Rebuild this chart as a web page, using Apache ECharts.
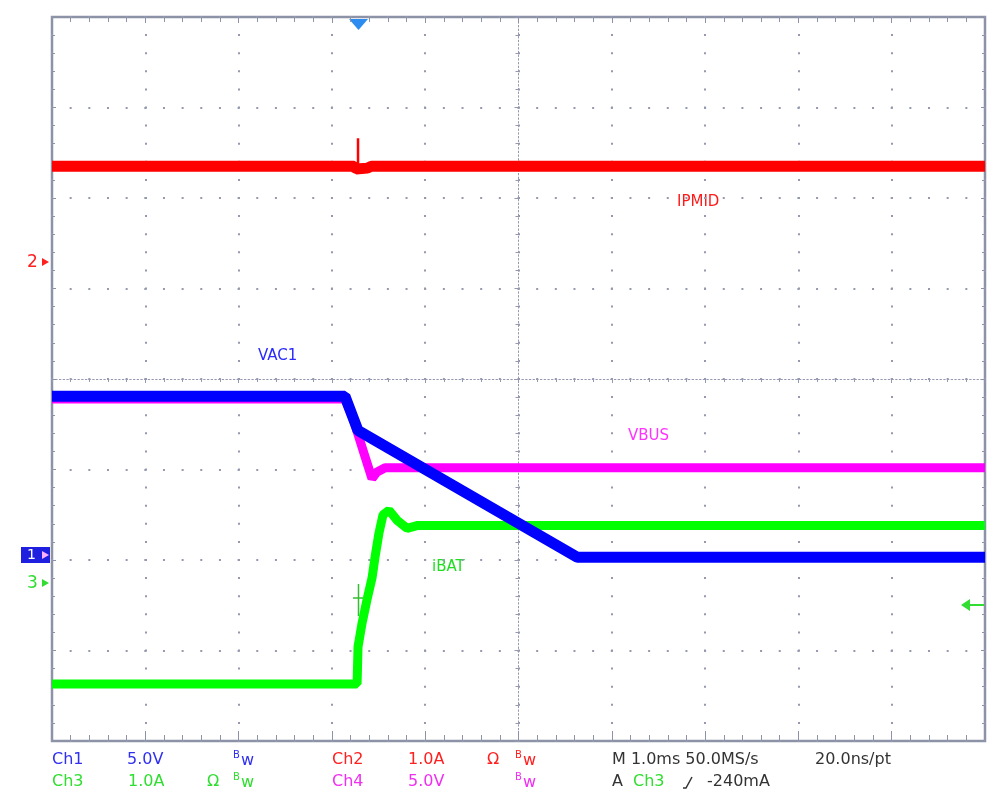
<!DOCTYPE html>
<html>
<head>
<meta charset="utf-8">
<script src="https://cdn.jsdelivr.net/npm/echarts@6/dist/echarts.min.js"></script>
<style>
  html, body { margin: 0; padding: 0; background: #fff; }
  #chart { width: 1000px; height: 797px; }
</style>
</head>
<body>
<div id="chart"></div>
<script>
// x in divisions (1.0 ms/div) from screen centre, y in divisions from centre
const ipmid = [[-5, 2.35], [-1.76, 2.35], [-1.74, 2.32], [-1.62, 2.33], [-1.58, 2.35], [5, 2.35]];
const ipmidSpike = [[-1.72, 2.35], [-1.72, 2.66]];
const vac1 = [[-5, -0.19], [-1.86, -0.19], [-1.72, -0.57], [0.63, -1.97], [5, -1.97]];
const vbus = [[-5, -0.22], [-1.86, -0.22], [-1.77, -0.45], [-1.65, -0.84], [-1.57, -1.1],
  [-1.52, -1.03], [-1.43, -0.98], [5, -0.98]];
const ibat = [[-5, -3.37], [-1.73, -3.37], [-1.72, -2.96], [-1.677, -2.7], [-1.624, -2.44],
  [-1.57, -2.2], [-1.538, -1.97], [-1.495, -1.7], [-1.452, -1.5], [-1.388, -1.45],
  [-1.302, -1.56], [-1.195, -1.65], [-1.088, -1.62], [5, -1.62]];

const row1 = [
  { t: "Ch1", x: 52, c: "#3030f0" }, { t: "5.0V", x: 127, c: "#3030f0" },
  { t: "Ch2", x: 332, c: "#ff2020" }, { t: "1.0A", x: 408, c: "#ff2020" },
  { t: "Ω", x: 487, c: "#ff2020" },
  { t: "M 1.0ms 50.0MS/s", x: 612, c: "#333" }, { t: "20.0ns/pt", x: 815, c: "#333" },
];
const row2 = [
  { t: "Ch3", x: 52, c: "#30dd30" }, { t: "1.0A", x: 128, c: "#30dd30" },
  { t: "Ω", x: 207, c: "#30dd30" },
  { t: "Ch4", x: 332, c: "#f030f0" }, { t: "5.0V", x: 408, c: "#f030f0" },
  { t: "A", x: 612, c: "#333" }, { t: "Ch3", x: 633, c: "#30dd30" },
  { t: "-240mA", x: 707, c: "#333" },
];
const bw = [
  { x: 233, y: 760, c: "#3030f0" }, { x: 515, y: 760, c: "#ff2020" },
  { x: 233, y: 782, c: "#30dd30" }, { x: 515, y: 782, c: "#f030f0" },
];
const traceLabels = [
  { t: "IPMID", x: 677, y: 202, c: "#ff1a1a" },
  { t: "VAC1", x: 258, y: 356, c: "#2a2aff" },
  { t: "VBUS", x: 628, y: 436, c: "#ff33ff" },
  { t: "iBAT", x: 432, y: 567, c: "#22dd22" },
];

const FONT = "'DejaVu Sans', 'Liberation Sans', sans-serif";
const gridColor = "#9499b0";
const frameColor = "#8c93a6";

const txt = (t, x, y, c, size) => ({
  type: "text", x: x, y: y,
  style: { text: t, fill: c, font: size + "px " + FONT, verticalAlign: "middle", align: "left" },
});

const graphics = [];
row1.forEach(d => graphics.push(txt(d.t, d.x, 760, d.c, 16)));
row2.forEach(d => graphics.push(txt(d.t, d.x, 782, d.c, 16)));
bw.forEach(d => {
  graphics.push(txt("B", d.x, d.y - 5, d.c, 10));
  graphics.push(txt("w", d.x + 8, d.y + 1, d.c, 16));
});
traceLabels.forEach(d => graphics.push(txt(d.t, d.x, d.y, d.c, 15)));

// slope symbol
graphics.push({ type: "polyline", shape: { points: [[683, 788], [686, 788], [692, 777]] },
  style: { stroke: "#333", lineWidth: 1.5, fill: null } });
// trigger position marker
graphics.push({ type: "polygon", shape: { points: [[349, 19], [368, 19], [358.5, 30]] },
  style: { fill: "#2d8cf0" } });
// channel markers on the left
graphics.push(txt("2", 27, 263, "#ff2020", 17));
graphics.push({ type: "polygon", shape: { points: [[42, 258], [49, 262], [42, 266]] }, style: { fill: "#ff2020" } });
graphics.push({ type: "rect", shape: { x: 21, y: 547, width: 29, height: 16 }, style: { fill: "#1f1fe0" } });
graphics.push(txt("1", 27, 555, "#ffffff", 14));
graphics.push({ type: "polygon", shape: { points: [[42, 551], [49, 555], [42, 559]] }, style: { fill: "#ffb0ff" } });
graphics.push(txt("3", 27, 584, "#30dd30", 17));
graphics.push({ type: "polygon", shape: { points: [[42, 579], [49, 583], [42, 587]] }, style: { fill: "#30dd30" } });
// trigger level arrow on the right
graphics.push({ type: "line", shape: { x1: 968, y1: 605, x2: 984, y2: 605 }, style: { stroke: "#30dd30", lineWidth: 2 } });
graphics.push({ type: "polygon", shape: { points: [[961, 605], [970, 599], [970, 611]] }, style: { fill: "#30dd30" } });
// trigger cross on the ch3 edge
graphics.push({ type: "line", shape: { x1: 358.5, y1: 584, x2: 358.5, y2: 616 }, style: { stroke: "#30c030", lineWidth: 1.5 } });
graphics.push({ type: "line", shape: { x1: 353, y1: 598, x2: 364, y2: 598 }, style: { stroke: "#30c030", lineWidth: 1.5 } });

const frameAxis = (pos, len, minorLen) => ({
  type: "value", min: pos === "top" || pos === "bottom" ? -5 : -4,
  max: pos === "top" || pos === "bottom" ? 5 : 4, interval: 1, position: pos,
  axisLine: { show: false, onZero: false },
  axisTick: { show: true, inside: true, length: len, lineStyle: { color: frameColor, width: 1 } },
  minorTick: { show: true, splitNumber: 5, length: minorLen, lineStyle: { color: frameColor, width: 1 } },
  axisLabel: { show: false }, splitLine: { show: false },
});

const option = {
  animation: false,
  backgroundColor: "#fff",
  grid: { left: 52, top: 17, width: 933, height: 724, show: true,
    borderColor: frameColor, borderWidth: 2.5, backgroundColor: "#fff" },
  xAxis: [
    {
      type: "value", min: -5, max: 5, interval: 1,
      axisLine: { show: true, onZero: true, lineStyle: { color: gridColor, width: 1, type: [1.5, 2.2] } },
      axisTick: { show: true, length: 4, lineStyle: { color: gridColor } },
      minorTick: { show: true, splitNumber: 5, length: 3, lineStyle: { color: gridColor } },
      axisLabel: { show: false },
      splitLine: { show: true, lineStyle: { color: gridColor, width: 2, type: [2, 16.1], dashOffset: 1 } },
    },
    frameAxis("top", 6, 5),
    frameAxis("bottom", 10, 6),
  ],
  yAxis: [
    {
      type: "value", min: -4, max: 4, interval: 1,
      axisLine: { show: true, onZero: true, lineStyle: { color: gridColor, width: 1, type: [1.5, 2.2] } },
      axisTick: { show: true, length: 4, lineStyle: { color: gridColor } },
      minorTick: { show: true, splitNumber: 5, length: 3, lineStyle: { color: gridColor } },
      axisLabel: { show: false },
      splitLine: { show: true, lineStyle: { color: gridColor, width: 2, type: [2, 16.66], dashOffset: 1 } },
    },
    frameAxis("left", 4, 3),
    frameAxis("right", 4, 3),
  ],
  series: [
    { name: "VBUS", type: "line", data: vbus, showSymbol: false, lineStyle: { color: "#ff00ff", width: 9 } },
    { name: "iBAT", type: "line", data: ibat, showSymbol: false, lineStyle: { color: "#00ff00", width: 9 } },
    { name: "VAC1", type: "line", data: vac1, showSymbol: false, lineStyle: { color: "#0000ff", width: 11 } },
    { name: "IPMID", type: "line", data: ipmid, showSymbol: false, lineStyle: { color: "#ff0000", width: 11 } },
    { name: "IPMID spike", type: "line", data: ipmidSpike, showSymbol: false, lineStyle: { color: "#ff0000", width: 2.5 } },
  ],
  graphic: graphics,
};

const chart = echarts.init(document.getElementById("chart"));
chart.setOption(option);
</script>
</body>
</html>
